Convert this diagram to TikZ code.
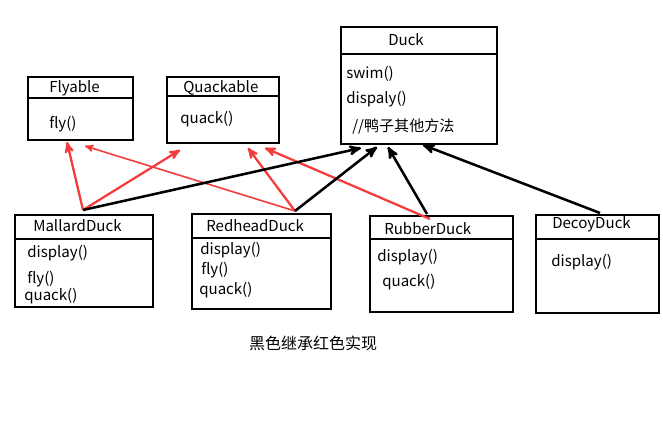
\documentclass[tikz,border=0pt]{standalone}
\usepackage{fontspec}
\setmainfont{Noto Sans CJK SC}
\usetikzlibrary{arrows, fit}
\definecolor{implred}{RGB}{245,60,60}
\tikzset{
		class box/.style={draw, line width=0.9pt, inner sep=0pt},
		member/.style={anchor=west, inner sep=0pt, font=\fontsize{11.3}{13}\selectfont},
		inherit/.style={->, line width=1.9pt, black},
		realize/.style={->, line width=1.7pt, implred}
	}

\begin{document}
\begin{tikzpicture}[x=0.75pt, y=-0.75pt, >=stealth']
				\useasboundingbox (0,0) rectangle (663,427);

				% interfaces
				\node[class box, fit={(28,77) (133,140)}]   (flyable)   {};
				\node[class box, fit={(167,77) (279,143)}]  (quackable) {};
				\draw[line width=0.9pt] (27,98) -- (133,98);
				\draw[line width=0.9pt] (167,96) -- (279,96);
				\node[member] (flyable name)  at (49,88)  {Flyable};
				\node[member] (flyable fly)   at (49,124) {fly()};
				\node[member] (quackable name) at (183,88) {Quackable};
				\node[member] (quackable quack) at (180,119) {quack()};

				% super class
				\node[class box, fit={(341,27) (497,144)}]  (duck) {};
				\draw[line width=0.9pt] (341,54) -- (497,54);
				\node[member] (duck name)  at (388,40)  {Duck};
				\node[member] (duck swim)  at (346,74)  {swim()};
				\node[member] (duck show)  at (346,99)  {dispaly()};
				\node[member] (duck other) at (352,126) {//鸭子其他方法};

				% sub classes
				\node[class box, fit={(15,215) (153,307)}]  (mallard) {};
				\node[class box, fit={(192,214) (331,309)}] (redhead) {};
				\node[class box, fit={(370,216) (513,312)}] (rubber)  {};
				\node[class box, fit={(536,215) (659,313)}] (decoy)   {};
				\draw[line width=0.9pt] (15,239) -- (153,239);
				\draw[line width=0.9pt] (192,238) -- (331,238);
				\draw[line width=0.9pt] (370,239) -- (514,239);
				\draw[line width=0.9pt] (536,239) -- (659,239);

				\node[member] (mallard name)  at (33,226)  {MallardDuck};
				\node[member] (mallard show)  at (27,253)  {display()};
				\node[member] (mallard fly)   at (27,279)  {fly()};
				\node[member] (mallard quack) at (24,296)  {quack()};

				\node[member] (redhead name)  at (206,226) {RedheadDuck};
				\node[member] (redhead show)  at (200,250) {display()};
				\node[member] (redhead fly)   at (201,270) {fly()};
				\node[member] (redhead quack) at (199,290) {quack()};

				\node[member] (rubber name)   at (384,229) {RubberDuck};
				\node[member] (rubber show)   at (377,257) {display()};
				\node[member] (rubber quack)  at (382,282) {quack()};

				\node[member] (decoy name)    at (552,224) {DecoyDuck};
				\node[member] (decoy show)    at (551,262) {display()};

				% end points of the arrows
				\coordinate (mallard top) at (83,210);
				\coordinate (redhead top) at (295,211);
				\coordinate (rubber top)  at (427,214);
				\coordinate (rubber red)  at (430,219);
				\coordinate (decoy top)   at (600,213);

				\coordinate (fly tip a)   at (67,142);
				\coordinate (fly tip b)   at (85,146);
				\coordinate (quack tip a) at (180,150);
				\coordinate (quack tip b) at (248,148);
				\coordinate (quack tip c) at (265,148);
				\coordinate (duck tip a)  at (361,148);
				\coordinate (duck tip b)  at (377,147);
				\coordinate (duck tip c)  at (388,147);
				\coordinate (duck tip d)  at (423,145);

				\draw[realize] (mallard top) -- (fly tip a);
				\draw[realize] (mallard top) -- (quack tip a);
				\draw[realize, line width=1.2pt] (redhead top) -- (fly tip b);
				\draw[realize] (redhead top) -- (quack tip b);
				\draw[realize] (rubber red)  -- (quack tip c);

				\draw[inherit] (mallard top) -- (duck tip a);
				\draw[inherit] (redhead top) -- (duck tip b);
				\draw[inherit] (rubber top)  -- (duck tip c);
				\draw[inherit] (decoy top)   -- (duck tip d);

				\node[font=\fontsize{12}{14}\selectfont] (caption) at (313,343) {黑色继承红色实现};
			\end{tikzpicture}
\end{document}
